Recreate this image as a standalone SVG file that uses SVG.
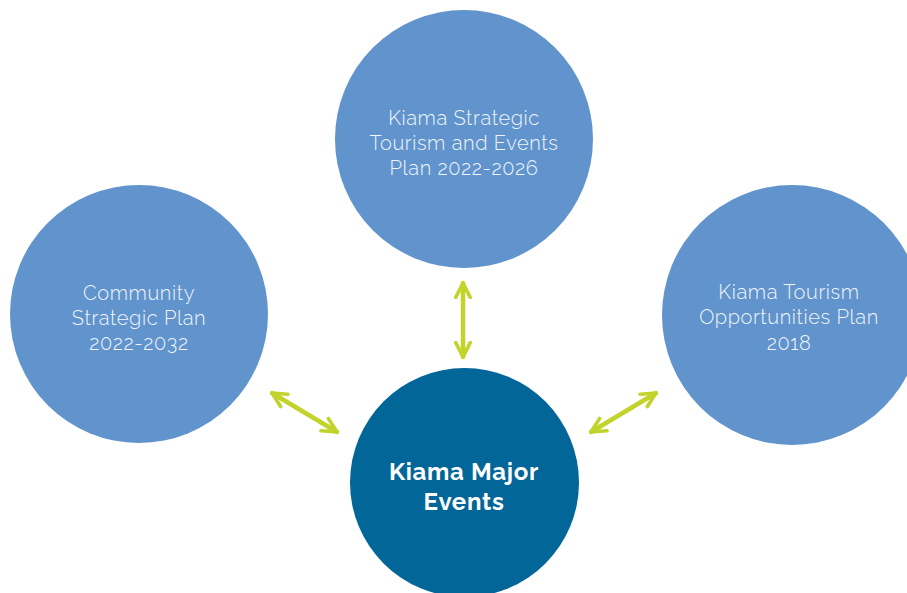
<svg xmlns="http://www.w3.org/2000/svg" width="907" height="593" viewBox="0 0 907 593">
<style>
.plan{fill:#6194CC}
.core{fill:#026699}
.lbl{font-family:Raleway,"Open Sans","Liberation Sans",sans-serif;font-weight:300;font-size:20px;letter-spacing:0.6px;fill:#F2F5FA;text-anchor:middle}
.blbl{font-family:Raleway,"Open Sans","Liberation Sans",sans-serif;font-weight:700;font-size:24px;letter-spacing:0.7px;fill:#FFFFFF;text-anchor:middle}
.conn{stroke:#C2D32C;stroke-width:4.5;fill:none;stroke-linecap:round;stroke-linejoin:round}
</style>
<defs>
<marker id="head" viewBox="0 0 10 10" refX="9" refY="5" markerWidth="4" markerHeight="4" markerUnits="strokeWidth" orient="auto-start-reverse">
<path d="M1,1 L9,5 L1,9" fill="none" stroke="#C2D32C" stroke-width="2" stroke-linecap="round" stroke-linejoin="round"/>
</marker>
</defs>
<rect width="907" height="593" fill="#FFFFFF"/>
<g id="connectors">
<line class="conn" x1="463" y1="283" x2="463" y2="357" marker-start="url(#head)" marker-end="url(#head)"/>
<line class="conn" x1="272" y1="393" x2="337" y2="432" marker-start="url(#head)" marker-end="url(#head)"/>
<line class="conn" x1="656" y1="393" x2="591" y2="432" marker-start="url(#head)" marker-end="url(#head)"/>
</g>
<g id="node-top">
<circle class="plan" cx="464" cy="139" r="129"/>
<text class="lbl" x="464" y="125">Kiama Strategic</text>
<text class="lbl" x="464" y="150">Tourism and Events</text>
<text class="lbl" x="464" y="175">Plan 2022-2026</text>
</g>
<g id="node-left">
<circle class="plan" cx="139" cy="314" r="129"/>
<text class="lbl" x="139" y="300">Community</text>
<text class="lbl" x="139" y="325">Strategic Plan</text>
<text class="lbl" x="139" y="350">2022-2032</text>
</g>
<g id="node-right">
<circle class="plan" cx="792" cy="315" r="130"/>
<text class="lbl" x="789" y="299">Kiama Tourism</text>
<text class="lbl" x="789" y="324">Opportunities Plan</text>
<text class="lbl" x="789" y="350">2018</text>
</g>
<g id="node-center">
<circle class="core" cx="464.5" cy="482.5" r="114.5"/>
<text class="blbl" x="464" y="480">Kiama Major</text>
<text class="blbl" x="464" y="510">Events</text>
</g>
</svg>
